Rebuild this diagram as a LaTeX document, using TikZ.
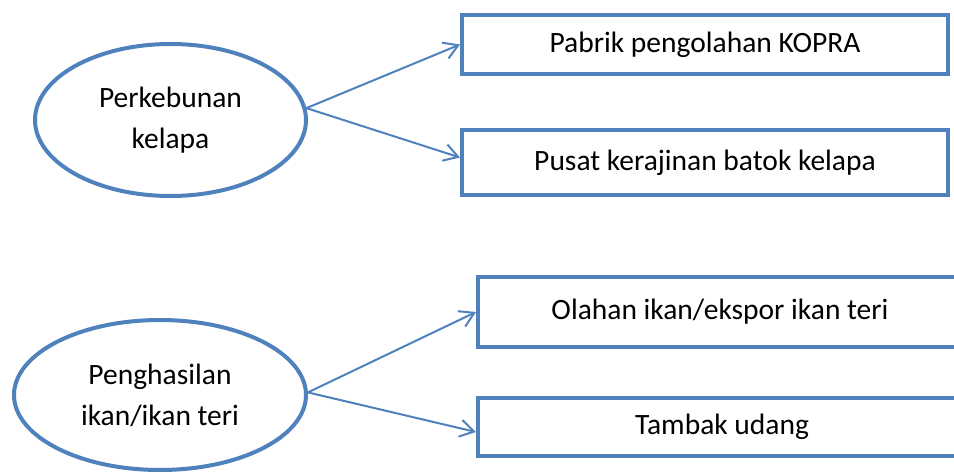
\documentclass[tikz,border=0pt]{standalone}
\usepackage{fontspec}
\setmainfont{Carlito}
\usetikzlibrary{shapes.geometric,arrows.meta}
\definecolor{obl}{HTML}{4F81BD}
\tikzset{
  oval/.style={ellipse,draw=obl,line width=4pt,inner sep=0pt,align=center,font=\fontsize{29.5}{41}\selectfont},
  tbox/.style={rectangle,draw=obl,line width=4pt,inner sep=0pt,font=\fontsize{29.5}{36}\selectfont},
  link/.style={draw=obl,line width=2pt,-{Straight Barb[length=14pt,width=17pt,line width=2pt]}}
}
\begin{document}
\begin{tikzpicture}[x=1pt,y=-1pt]
\useasboundingbox (0,0) rectangle (954,473);
\node[oval,minimum width=271pt,minimum height=152pt] (e1) at (170.5,120) {Perkebunan\\kelapa};
\node[oval,minimum width=292pt,minimum height=150pt] (e2) at (160,395) {Penghasilan\\ikan/ikan teri};
\node[tbox,minimum width=486pt,minimum height=59pt] (b1) at (705,44.5) {Pabrik pengolahan KOPRA};
\node[tbox,minimum width=486pt,minimum height=65pt] (b2) at (705,162.5) {Pusat kerajinan batok kelapa};
\node[tbox,minimum width=484pt,minimum height=70pt] (b3) at (720,312) {Olahan ikan/ekspor ikan teri};
\node[tbox,minimum width=488pt,minimum height=58pt] (b4) at (722,427) {Tambak udang};
\draw[link] (e1.5) -- (b1.west);
\draw[link] (e1.5) -- ([yshift=5pt]b2.west);
\draw[link] (e2.1) -- (b3.west);
\draw[link] (e2.1) -- ([yshift=-5pt]b4.west);
\end{tikzpicture}
\end{document}
